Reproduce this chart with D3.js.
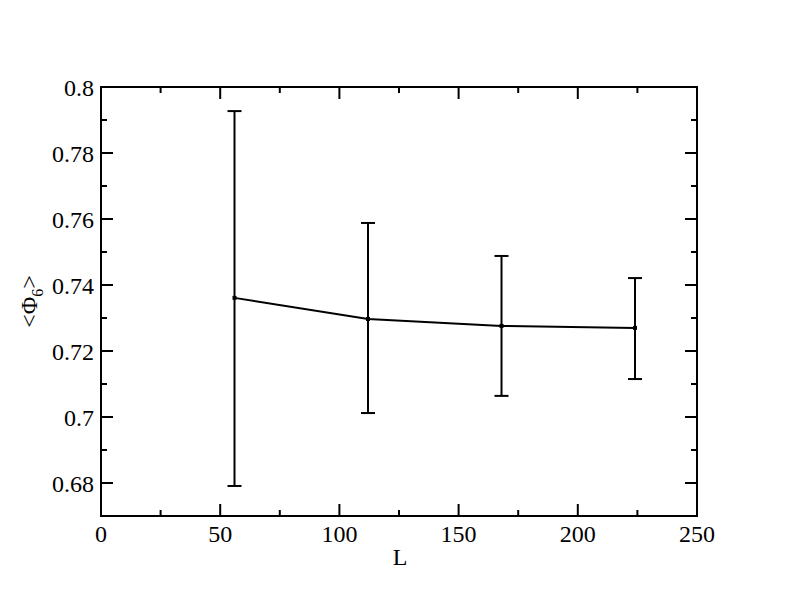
<!DOCTYPE html>
<html>
<head>
<meta charset="utf-8">
<script src="https://cdn.jsdelivr.net/npm/d3@7"></script>
<style>
  body { margin: 0; background: #fff; }
</style>
</head>
<body>
<div id="chart"></div>
<script>
// data
var sizes = [56, 112, 168, 224];
var phi6 = [0.7361, 0.7297, 0.7276, 0.7270];
var errHi = [0.7927, 0.7588, 0.7488, 0.7421];
var errLo = [0.6791, 0.7012, 0.7064, 0.7115];

var xMajor = [0, 50, 100, 150, 200, 250];
var xMinor = [25, 75, 125, 175, 225];
var yMajor = [0.68, 0.70, 0.72, 0.74, 0.76, 0.78, 0.80];
var yMinor = [0.67, 0.69, 0.71, 0.73, 0.75, 0.77, 0.79];

var width = 792, height = 607;
var plotLeft = 101, plotRight = 697, plotTop = 87, plotBottom = 516;
var serif = "'Liberation Serif', 'Times New Roman', 'DejaVu Serif', serif";

var svg = d3.select("#chart")
    .append("svg")
    .attr("width", width)
    .attr("height", height)
    .attr("font-family", serif);

var x = d3.scaleLinear().domain([0, 250]).range([plotLeft, plotRight]);
var y = d3.scaleLinear().domain([0.67, 0.8]).range([plotBottom, plotTop]);

var fmtY = function(d) { return String(+d.toFixed(2)); };

// ticks on all 4 sides, pointing inwards
function xticks(vals, len) {
    vals.forEach(function(v) {
        svg.append("line").attr("x1", x(v)).attr("x2", x(v))
            .attr("y1", plotBottom).attr("y2", plotBottom - len)
            .attr("stroke", "#000").attr("stroke-width", 2);
        svg.append("line").attr("x1", x(v)).attr("x2", x(v))
            .attr("y1", plotTop).attr("y2", plotTop + len)
            .attr("stroke", "#000").attr("stroke-width", 2);
    });
}
function yticks(vals, len) {
    vals.forEach(function(v) {
        svg.append("line").attr("x1", plotLeft).attr("x2", plotLeft + len)
            .attr("y1", y(v)).attr("y2", y(v))
            .attr("stroke", "#000").attr("stroke-width", 2);
        svg.append("line").attr("x1", plotRight).attr("x2", plotRight - len)
            .attr("y1", y(v)).attr("y2", y(v))
            .attr("stroke", "#000").attr("stroke-width", 2);
    });
}
xticks(xMajor, 12);
xticks(xMinor, 6);
yticks(yMajor, 12);
yticks(yMinor, 6);

svg.append("rect")
    .attr("x", plotLeft).attr("y", plotTop)
    .attr("width", plotRight - plotLeft).attr("height", plotBottom - plotTop)
    .attr("fill", "none").attr("stroke", "#000").attr("stroke-width", 2);

xMajor.forEach(function(v) {
    svg.append("text")
        .attr("x", x(v)).attr("y", plotBottom + 26)
        .attr("text-anchor", "middle")
        .attr("font-size", 24)
        .text(v);
});
yMajor.forEach(function(v) {
    svg.append("text")
        .attr("x", plotLeft - 7).attr("y", y(v) + 9)
        .attr("text-anchor", "end")
        .attr("font-size", 24)
        .text(fmtY(v));
});

svg.append("text")
    .attr("x", (plotLeft + plotRight) / 2 + 1).attr("y", 565)
    .attr("text-anchor", "middle")
    .attr("font-size", 24)
    .text("L");

var yl = svg.append("text")
    .attr("transform", "translate(37," + ((plotTop + plotBottom) / 2) + ") rotate(-90)")
    .attr("text-anchor", "middle")
    .attr("font-size", 24);
yl.append("tspan").text("<Φ");
yl.append("tspan").attr("font-size", 16).attr("dy", 6).text("6");
yl.append("tspan").attr("dy", -6).text(">");

// error bars
sizes.forEach(function(s, i) {
    svg.append("line")
        .attr("x1", x(s)).attr("x2", x(s))
        .attr("y1", y(errHi[i])).attr("y2", y(errLo[i]))
        .attr("stroke", "#000").attr("stroke-width", 2);
    [errHi[i], errLo[i]].forEach(function(e) {
        svg.append("line")
            .attr("x1", x(s) - 7).attr("x2", x(s) + 7)
            .attr("y1", y(e)).attr("y2", y(e))
            .attr("stroke", "#000").attr("stroke-width", 2);
    });
});

var line = d3.line()
    .x(function(d, i) { return x(sizes[i]); })
    .y(function(d) { return y(d); });

svg.append("path")
    .datum(phi6)
    .attr("d", line)
    .attr("fill", "none")
    .attr("stroke", "#000")
    .attr("stroke-width", 2);

svg.selectAll(".pt")
    .data(phi6)
    .enter()
    .append("rect")
    .attr("x", function(d, i) { return x(sizes[i]) - 2; })
    .attr("y", function(d) { return y(d) - 2; })
    .attr("width", 4).attr("height", 4)
    .attr("fill", "#000");
</script>
</body>
</html>
